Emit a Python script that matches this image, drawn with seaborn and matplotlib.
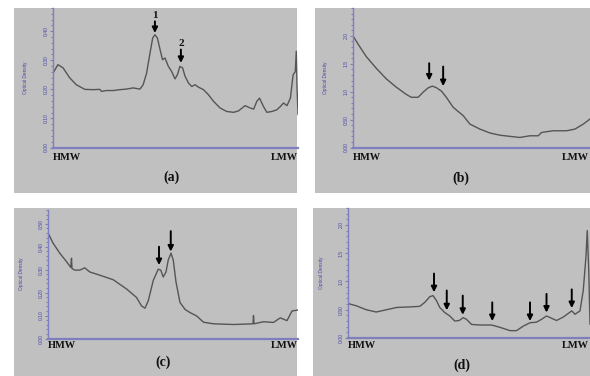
import matplotlib
matplotlib.use("Agg")
import matplotlib.pyplot as plt
from matplotlib.patches import Rectangle
from matplotlib.ticker import MultipleLocator, FixedLocator, FixedFormatter
import seaborn as sns
import pandas as pd

sns.set_theme(style="white")
plt.rcParams['font.family'] = ['Liberation Sans', 'DejaVu Sans']

# ---------------- data (relative migration 0=HMW .. 1=LMW, optical density) ----
a_x = [0, .02, .041, .068, .095, .13, .164, .191, .198, .218, .246, .273, .30, .327,
       .355, .368, .382, .396, .407, .416, .426, .437, .447, .457, .471, .484, .498,
       .508, .518, .529, .539, .553, .566, .58, .593, .614, .634, .655, .682, .709,
       .737, .757, .784, .805, .819, .832, .843, .859, .873, .894, .914, .928, .941,
       .955, .969, .98, .989, .993, .996, 1.0]
a_y = [0.256, 0.285, 0.274, 0.240, 0.216, 0.200, 0.199, 0.200, 0.193, 0.196, 0.196,
       0.199, 0.201, 0.205, 0.201, 0.216, 0.256, 0.325, 0.377, 0.388, 0.377, 0.337,
       0.302, 0.308, 0.279, 0.262, 0.236, 0.251, 0.279, 0.274, 0.245, 0.222, 0.210,
       0.216, 0.208, 0.199, 0.182, 0.159, 0.136, 0.124, 0.121, 0.126, 0.144, 0.136,
       0.132, 0.159, 0.170, 0.141, 0.121, 0.124, 0.130, 0.141, 0.153, 0.144, 0.170,
       0.250, 0.261, 0.331, 0.210, 0.113]

b_x = [0, .027, .054, .095, .136, .177, .218, .238, .266, .286, .307, .324, .341, .361,
       .381, .409, .45, .477, .518, .559, .60, .64, .681, .722, .756, .77, .817, .872,
       .906, .94, .967]
b_y = [2.00, 1.81, 1.63, 1.42, 1.23, 1.08, 0.95, 0.90, 0.90, 0.99, 1.07, 1.10, 1.07,
       1.01, 0.90, 0.72, 0.57, 0.42, 0.33, 0.26, 0.22, 0.20, 0.18, 0.21, 0.21, 0.27,
       0.30, 0.30, 0.33, 0.42, 0.51]

c_x = [0, .02, .047, .074, .091, .094, .096, .107, .127, .147, .167, .207, .261, .314,
       .354, .374, .388, .401, .421, .441, .451, .461, .472, .481, .492, .501, .512,
       .528, .548, .568, .595, .622, .662, .742, .82, .822, .824, .862, .902, .929,
       .956, .976, 1.0]
c_y = [0.460, 0.416, 0.372, 0.335, 0.310, 0.350, 0.305, 0.298, 0.298, 0.308, 0.290,
       0.276, 0.256, 0.216, 0.179, 0.142, 0.132, 0.164, 0.253, 0.302, 0.298, 0.268,
       0.290, 0.342, 0.372, 0.342, 0.246, 0.157, 0.127, 0.113, 0.098, 0.071, 0.064,
       0.061, 0.064, 0.100, 0.064, 0.073, 0.070, 0.090, 0.078, 0.120, 0.124]

d_x = [0, .033, .073, .113, .154, .194, .247, .287, .307, .327, .34, .354, .367, .387,
       .407, .427, .445, .461, .474, .494, .527, .574, .607, .648, .674, .701, .728,
       .754, .774, .794, .814, .834, .861, .895, .908, .928, .941, .952, .957, .963,
       .968]
d_y = [0.61, 0.57, 0.50, 0.46, 0.50, 0.54, 0.55, 0.56, 0.63, 0.73, 0.75, 0.66, 0.54,
       0.45, 0.39, 0.30, 0.31, 0.36, 0.33, 0.24, 0.23, 0.23, 0.19, 0.13, 0.13, 0.21,
       0.27, 0.28, 0.33, 0.39, 0.35, 0.31, 0.37, 0.48, 0.42, 0.48, 0.84, 1.45, 1.90,
       1.20, 0.24]

# arrows: x, y_start, y_end
a_arrows = [(.416, 0.434, 0.394), (.522, 0.337, 0.291)]
a_arrow_labels = ["1", "2"]
b_arrows = [(.311, 1.51, 1.20), (.368, 1.45, 1.10)]
c_arrows = [(.444, 0.40, 0.32), (.491, 0.468, 0.379)]
d_arrows = [(.344, 1.14, 0.81), (.395, 0.84, 0.49), (.459, 0.75, 0.41),
            (.577, 0.63, 0.30), (.728, 0.63, 0.30), (.794, 0.78, 0.45),
            (.895, 0.86, 0.53)]

a_ticks = [0.0, 0.1, 0.2, 0.3, 0.4]
a_labels = ["0.00", "0.10", "0.20", "0.30", "0.40"]
b_ticks = [0.0, 0.5, 1.0, 1.5, 2.0]
b_labels = ["0.00", "0.50", "1.0", "1.5", "2.0"]
c_ticks = [0.0, 0.1, 0.2, 0.3, 0.4, 0.5]
c_labels = ["0.00", "0.10", "0.20", "0.30", "0.40", "0.50"]
d_ticks = b_ticks
d_labels = b_labels
panel_names = ["(a)", "(b)", "(c)", "(d)"]

# ---------------- figure ----------------
W, H = 590, 376
fig = plt.figure(figsize=(W / 100, H / 100), dpi=100)
fig.patch.set_facecolor("white")

GRAY = "#c0c0c0"
AXBLUE = "#7f7fbf"
TXTBLUE = "#4646a6"
LINE = "#555555"

def px_rect(x0, y0, x1, y1):
    return [x0 / W, 1 - y1 / H, (x1 - x0) / W, (y1 - y0) / H]

for (x0, y0, x1, y1) in [(14, 8, 297, 193), (315, 8, 605, 193),
                         (14, 208, 297, 380), (313, 208, 605, 380)]:
    r = px_rect(x0, y0, x1, y1)
    fig.add_artist(Rectangle((r[0], r[1]), r[2], r[3], transform=fig.transFigure,
                             facecolor=GRAY, edgecolor="none", zorder=0))

panels = [
    dict(box=(53, 8, 298, 147.5), x=a_x, y=a_y, ylim=0.48, ticks=a_ticks, labels=a_labels,
         minor=0.02, arrows=a_arrows, alabels=a_arrow_labels, hm=10, name_xy=(171, 177),
         ylab_x=25, lmw_right=298),
    dict(box=(353, 8, 598, 147.5), x=b_x, y=b_y, ylim=2.5, ticks=b_ticks, labels=b_labels,
         minor=0.1, arrows=b_arrows, alabels=None, hm=10, name_xy=(461, 178), ylab_x=325,
         lmw_right=589),
    dict(box=(48, 210, 298, 338.5), x=c_x, y=c_y, ylim=0.56, ticks=c_ticks, labels=c_labels,
         minor=0.02, arrows=c_arrows, alabels=None, hm=7, name_xy=(163, 362), ylab_x=21,
         lmw_right=298),
    dict(box=(348, 208, 598, 338), x=d_x, y=d_y, ylim=2.3, ticks=d_ticks, labels=d_labels,
         minor=0.1, arrows=d_arrows, alabels=None, hm=7, name_xy=(462, 365), ylab_x=321,
         lmw_right=589),
]

for i, p in enumerate(panels):
    x0, y0, x1, y1 = p["box"]
    ax = fig.add_axes(px_rect(x0, y0, x1, y1))
    ax.set_facecolor("none")
    df = pd.DataFrame({"pos": p["x"], "od": p["y"]})
    sns.lineplot(data=df, x="pos", y="od", ax=ax, color=LINE, linewidth=1.0,
                 estimator=None, sort=False)
    ax.set_xlim(0, 1)
    ax.set_ylim(0, p["ylim"])
    ax.set_xlabel("")
    ax.set_ylabel("")
    for s in ["top", "right"]:
        ax.spines[s].set_visible(False)
    ax.spines["left"].set_color(AXBLUE)
    ax.spines["left"].set_linewidth(1.0)
    ax.spines["bottom"].set_color(AXBLUE)
    ax.spines["bottom"].set_linewidth(1.6)
    ax.set_xticks([])
    ax.yaxis.set_major_locator(FixedLocator(p["ticks"]))
    ax.yaxis.set_major_formatter(FixedFormatter(p["labels"]))
    ax.yaxis.set_minor_locator(MultipleLocator(p["minor"]))
    ax.tick_params(axis="y", which="major", direction="out", length=2.2, width=0.8,
                   color=AXBLUE, labelsize=3.6, labelcolor=TXTBLUE, pad=1,
                   labelrotation=90, left=True)
    ax.tick_params(axis="y", which="minor", direction="out", length=1.2, width=0.8,
                   color=AXBLUE, left=True)
    for lab in ax.get_yticklabels():
        lab.set_va("center")
    fig.text(p["ylab_x"] / W, 1 - ((y0 + y1) / 2) / H, "Optical Density",
             rotation=90, ha="center", va="center", fontsize=3.4, color=TXTBLUE)
    ty = 1 - (y1 + p["hm"]) / H
    fig.text(x0 / W, ty, "HMW", ha="left", va="center", fontsize=7.5,
             fontweight="bold", family="Liberation Serif", color="#111111")
    fig.text(p["lmw_right"] / W, ty, "LMW", ha="right", va="center", fontsize=7.5,
             fontweight="bold", family="Liberation Serif", color="#111111")
    for k, (ax_x, ys, ye) in enumerate(p["arrows"]):
        ax.annotate("", xy=(ax_x, ye), xytext=(ax_x, ys),
                    arrowprops=dict(arrowstyle="-|>", color="black", lw=1.4,
                                    mutation_scale=8, shrinkA=0, shrinkB=0))
        if p["alabels"]:
            ax.text(ax_x, ys + 0.004, p["alabels"][k], ha="center", va="bottom",
                    fontsize=8, fontweight="bold", family="Liberation Serif",
                    color="#111111")
    nx, ny = p["name_xy"]
    fig.text(nx / W, 1 - ny / H, panel_names[i], ha="center", va="center",
             fontsize=10, fontweight="bold", family="Liberation Serif", color="#111111")

fig.savefig("out.png", dpi=100)
